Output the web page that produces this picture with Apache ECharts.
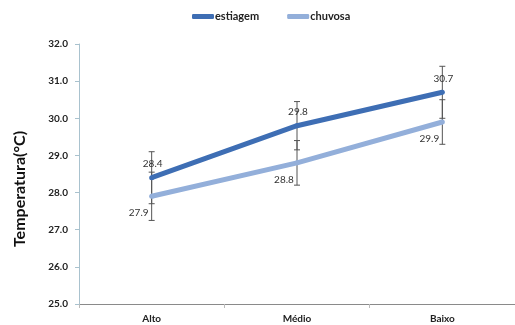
<!DOCTYPE html>
<html>
<head>
<meta charset="utf-8">
<script src="https://cdn.jsdelivr.net/npm/echarts@6/dist/echarts.min.js"></script>
<style>
  html, body { margin: 0; padding: 0; background: #fff; }
  #chart { width: 515px; height: 325px; }
</style>
</head>
<body>
<div id="chart"></div>
<script>
// Mean temperature per site (Alto / Médio / Baixo) for dry and rainy seasons
const categories = ['Alto', 'Médio', 'Baixo'];
const estiagem = [28.4, 29.8, 30.7];
const chuvosa = [27.9, 28.8, 29.9];
// Standard deviation drawn as error bars
const estiagemErr = [0.7, 0.65, 0.7];
const chuvosaErr = [0.65, 0.6, 0.6];

const yTicks = { min: 25, max: 32, interval: 1 };

const FONT = 'Lato';
const colEst = '#3E6EB4';
const colChu = '#93AFDA';

function errorSeries(values, errs) {
  return {
    type: 'custom',
    silent: true,
    z: 1,
    data: values.map((v, i) => [i, v - errs[i], v + errs[i]]),
    renderItem: function (params, api) {
      const lo = api.coord([api.value(0), api.value(1)]);
      const hi = api.coord([api.value(0), api.value(2)]);
      const w = 3;
      const style = { stroke: '#555', lineWidth: 1 };
      return {
        type: 'group',
        children: [
          { type: 'line', shape: { x1: hi[0], y1: hi[1], x2: lo[0], y2: lo[1] }, style },
          { type: 'line', shape: { x1: hi[0] - w, y1: hi[1], x2: hi[0] + w, y2: hi[1] }, style },
          { type: 'line', shape: { x1: lo[0] - w, y1: lo[1], x2: lo[0] + w, y2: lo[1] }, style }
        ]
      };
    }
  };
}

const chart = echarts.init(document.getElementById('chart'), null, { renderer: 'canvas' });
chart.setOption({
  animation: false,
  textStyle: { fontFamily: FONT },
  legend: {
    top: 6,
    left: 187,
    itemGap: 28,
    itemWidth: 22,
    itemHeight: 5,
    icon: 'roundRect',
    textStyle: { fontFamily: FONT, fontWeight: 'bold', fontSize: 11, color: '#222', padding: [0, 0, 0, -4] },
    data: [
      { name: 'estiagem', itemStyle: { color: colEst } },
      { name: 'chuvosa', itemStyle: { color: colChu } }
    ]
  },
  grid: { left: 79, top: 44, width: 444, height: 260, containLabel: false },
  xAxis: {
    type: 'category',
    data: categories,
    boundaryGap: true,
    axisLine: { lineStyle: { color: '#8a8a8a', width: 1 } },
    axisTick: { show: true, length: 4, lineStyle: { color: '#bbb' } },
    axisLabel: { fontFamily: FONT, fontWeight: 'bold', fontSize: 10, color: '#222', margin: 10 },
    splitLine: { show: false }
  },
  yAxis: {
    type: 'value',
    min: yTicks.min,
    max: yTicks.max,
    interval: yTicks.interval,
    axisLine: { show: true, lineStyle: { color: '#A9C2CE', width: 1 } },
    axisTick: { show: true, length: 4, lineStyle: { color: '#A9C2CE' } },
    axisLabel: {
      fontFamily: FONT, fontWeight: 'bold', fontSize: 10, color: '#222', margin: 11,
      formatter: v => v.toFixed(1)
    },
    splitLine: { show: false }
  },
  graphic: [{
    type: 'text',
    x: 20,
    y: 189,
    rotation: Math.PI / 2,
    style: {
      text: 'Temperatura(°C)',
      font: 'bold 16px ' + FONT,
      fill: '#111',
      align: 'center',
      verticalAlign: 'middle'
    }
  }],
  series: [
    errorSeries(estiagem, estiagemErr),
    errorSeries(chuvosa, chuvosaErr),
    {
      name: 'chuvosa',
      type: 'line',
      data: chuvosa,
      z: 3,
      color: colChu,
      lineStyle: { width: 5, color: colChu },
      showSymbol: true,
      symbol: 'circle',
      symbolSize: 5,
      itemStyle: { color: colChu },
      label: {
        show: true,
        position: 'bottom',
        offset: [-13, 4],
        fontFamily: FONT, fontSize: 10, color: '#333',
        formatter: p => p.value.toFixed(1)
      }
    },
    {
      name: 'estiagem',
      type: 'line',
      data: estiagem,
      z: 4,
      color: colEst,
      lineStyle: { width: 5, color: colEst },
      showSymbol: true,
      symbol: 'circle',
      symbolSize: 5,
      itemStyle: { color: colEst },
      label: {
        show: true,
        position: 'top',
        distance: 6,
        offset: [1, 0],
        fontFamily: FONT, fontSize: 10, color: '#333',
        formatter: p => p.value.toFixed(1)
      }
    }
  ]
});
</script>
</body>
</html>
